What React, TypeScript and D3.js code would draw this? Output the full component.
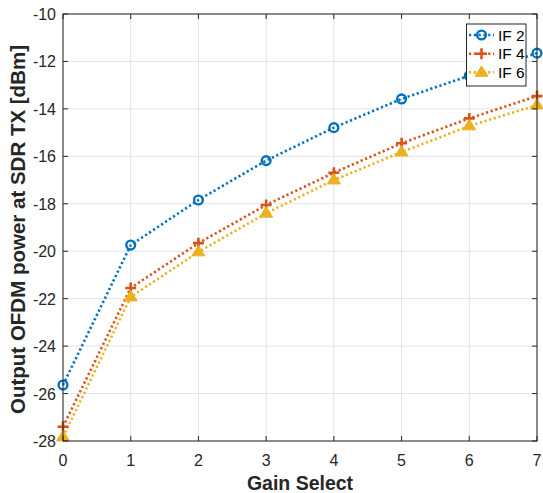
import React from "react";
import * as d3 from "d3";

const gains = [0, 1, 2, 3, 4, 5, 6, 7];
const if2 = [-25.64, -19.74, -17.84, -16.18, -14.79, -13.58, -12.6, -11.65];
const if4 = [-27.4, -21.55, -19.66, -18.05, -16.69, -15.45, -14.4, -13.46];
const if6 = [-27.83, -21.93, -20.03, -18.4, -17.0, -15.82, -14.72, -13.84];
const seriesNames = ["IF 2", "IF 4", "IF 6"];
const xTicks = [0, 1, 2, 3, 4, 5, 6, 7];
const yTicks = [-28, -26, -24, -22, -20, -18, -16, -14, -12, -10];

const colors = ["#0072BD", "#D95319", "#EDB120"];

export default function App() {
  const W = 543, H = 493;
  const L = 63, R = 537, T = 14, B = 441;
  const x = d3.scaleLinear().domain([0, 7]).range([L, R]);
  const y = d3.scaleLinear().domain([-28, -10]).range([B, T]);
  const all = [if2, if4, if6];
  const line = d3.line<number>().x((_, i) => x(gains[i])).y((d) => y(d));
  const font = "Liberation Sans, Arial, Helvetica, sans-serif";
  const axisCol = "#262626";

  const marker = (k: number, cx: number, cy: number, key: string) => {
    const c = colors[k];
    if (k === 0)
      return <circle key={key} cx={cx} cy={cy} r={4.4} fill="none" stroke={c} strokeWidth={2.4} />;
    if (k === 1)
      return (
        <path key={key} d={`M${cx - 5.5},${cy}H${cx + 5.5}M${cx},${cy - 5.5}V${cy + 5.5}`} stroke={c} strokeWidth={2.6} />
      );
    const s = 6.5;
    return (
      <path
        key={key}
        d={`M${cx},${cy - s}L${cx + s},${cy + s * 0.6}L${cx - s},${cy + s * 0.6}Z`}
        fill={c}
        stroke={c}
        strokeWidth={1}
      />
    );
  };

  return (
    <svg width={W} height={H} style={{ position: "absolute", left: 0, top: 0, background: "#fff" }} fontFamily={font}>
      <rect x={0} y={0} width={W} height={H} fill="#fff" />
      {xTicks.map((t) => (
        <line key={"gx" + t} x1={x(t)} x2={x(t)} y1={T} y2={B} stroke="#e3e3e3" strokeWidth={1} />
      ))}
      {yTicks.map((t) => (
        <line key={"gy" + t} x1={L} x2={R} y1={y(t)} y2={y(t)} stroke="#e3e3e3" strokeWidth={1} />
      ))}
      {all.map((s, k) => (
        <path
          key={"l" + k}
          d={line(s) || ""}
          fill="none"
          stroke={colors[k]}
          strokeWidth={2.6}
          strokeDasharray="2.2 2.6"
        />
      ))}
      {all.map((s, k) => s.map((v, i) => marker(k, x(gains[i]), y(v), `m${k}-${i}`)))}
      <rect x={L} y={T} width={R - L} height={B - T} fill="none" stroke={axisCol} strokeWidth={1} />
      {xTicks.map((t) => (
        <g key={"tx" + t}>
          <line x1={x(t)} x2={x(t)} y1={B} y2={B - 5} stroke={axisCol} />
          <line x1={x(t)} x2={x(t)} y1={T} y2={T + 5} stroke={axisCol} />
          <text x={x(t)} y={B + 25} textAnchor="middle" fontSize={16} fill={axisCol}>
            {t}
          </text>
        </g>
      ))}
      {yTicks.map((t) => (
        <g key={"ty" + t}>
          <line x1={L} x2={L + 5} y1={y(t)} y2={y(t)} stroke={axisCol} />
          <line x1={R} x2={R - 5} y1={y(t)} y2={y(t)} stroke={axisCol} />
          <text x={L - 7} y={y(t) + 6} textAnchor="end" fontSize={16} fill={axisCol}>
            {t}
          </text>
        </g>
      ))}
      <text x={(L + R) / 2} y={490} textAnchor="middle" fontSize={19.5} fontWeight="bold" fill={axisCol}>
        Gain Select
      </text>
      <text
        transform={`translate(25,${(T + B) / 2 + 2}) rotate(-90)`}
        textAnchor="middle"
        fontSize={20.5}
        fontWeight="bold"
        fill={axisCol}
      >
        Output OFDM power at SDR TX [dBm]
      </text>
      <g>
        <rect x={466.5} y={24} width={59.5} height={62} fill="#fff" stroke={axisCol} strokeWidth={1} />
        {seriesNames.map((n, k) => {
          const ly = 35 + k * 18.7;
          return (
            <g key={"lg" + k}>
              <line x1={469} x2={494} y1={ly} y2={ly} stroke={colors[k]} strokeWidth={2.6} strokeDasharray="2.2 2.6" />
              {marker(k, 481.5, ly, "lm" + k)}
              <text x={498} y={ly + 5.5} fontSize={15.5} fill="#000">
                {n}
              </text>
            </g>
          );
        })}
      </g>
    </svg>
  );
}
